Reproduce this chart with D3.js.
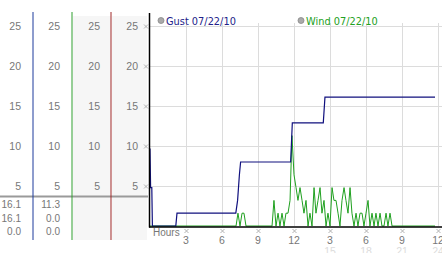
<!DOCTYPE html>
<html>
<head>
<meta charset="utf-8">
<script src="https://cdn.jsdelivr.net/npm/d3@7"></script>
<style>
  body { margin: 0; background: #fff; font-family: "Liberation Sans", Arial, sans-serif; }
  svg { display: block; }
</style>
</head>
<body>
<svg id="chart" width="442" height="253"></svg>
<script>
// y ticks shared by the side columns and the plot
let yTicks = [5, 10, 15, 20, 25]
// hour ticks, top row and faint second row
let hourTicks = [3, 6, 9, 12, 15, 18, 21, 24]
let hourLabels = ["3", "6", "9", "12", "3", "6", "9", "12"]
let hourLabels2 = ["", "", "", "", "15", "18", "21", "24"]

// series names and summary (max / current / min)
let seriesNames = ["Gust 07/22/10", "Wind 07/22/10"]
let gustStats = ["16.1", "16.1", "0.0"]
let windStats = ["11.3", "0.0", "0.0"]

// gust: [hour, value]
let gust = [
  [0, 9.7], [0.05, 4.8], [0.15, 4.8], [0.2, 0], [2.15, 0], [2.25, 1.6],
  [7.15, 1.6], [7.3, 3.2], [7.45, 6.4], [7.55, 8.0], [11.72, 8.0],
  [11.86, 12.9], [14.44, 12.9], [14.58, 16.1], [23.75, 16.1]
]

// wind: hours and values (10 minute samples between 7h and 20.3h)
let windHours = [0, 7, 7.17, 7.33, 7.5, 7.67, 7.83, 8, 10.17, 10.33, 10.5, 10.67, 10.83,
  11, 11.17, 11.33, 11.5, 11.67, 11.83, 12, 12.17, 12.33, 12.5, 12.67, 12.83, 13,
  13.17, 13.33, 13.5, 13.67, 13.83, 14, 14.17, 14.33, 14.5, 14.67, 14.83, 15, 15.17,
  15.33, 15.5, 15.67, 15.83, 16, 16.17, 16.33, 16.5, 16.67, 16.83, 17, 17.17, 17.33,
  17.5, 17.67, 17.83, 18, 18.17, 18.33, 18.5, 18.67, 18.83, 19, 19.17, 19.33, 19.5,
  19.67, 19.83, 20, 20.17, 20.33, 23.75]
let windValues = [0, 0, 0, 1.6, 0, 1.6, 1.6, 0, 0, 3.2, 0, 1.6, 0,
  1.6, 0, 1.6, 1.6, 3.2, 11.3, 6.4, 4.8, 3.2, 4.8, 3.2, 1.6, 3.2,
  0, 1.6, 0, 4.8, 1.6, 3.2, 4.8, 1.6, 3.2, 0, 1.6, 0, 4.8,
  3.2, 3.2, 1.6, 0, 3.2, 4.8, 3.2, 1.6, 4.8, 1.6, 0, 1.6, 0,
  1.6, 1.6, 0, 1.6, 3.2, 0, 1.6, 0, 1.6, 0, 1.6, 0, 0,
  1.6, 0, 1.6, 0, 0, 0]

let svg = d3.select("#chart")

let x = d3.scaleLinear().domain([0, 24]).range([150, 438])
let y = d3.scaleLinear().domain([0, 25]).range([226, 26])

// ---- left side panel ----
let cols = [
  { label: 21, line: 33, color: "#1c3a9c" },
  { label: 60, line: 72, color: "#2e9e2e" },
  { label: 100, line: 111, color: "#a02828" },
  { label: 138, line: null, color: null }
]

svg.append("rect").attr("x", 73).attr("y", 16).attr("width", 38).attr("height", 224).attr("fill", "#f6f6f6")
svg.append("rect").attr("x", 112).attr("y", 16).attr("width", 35).attr("height", 224).attr("fill", "#f6f6f6")

cols.forEach(c => {
  svg.append("g").selectAll("text").data(yTicks).enter().append("text")
    .attr("x", c.label).attr("y", d => y(d) + 4)
    .attr("text-anchor", "end")
    .attr("font-size", 10.5).attr("fill", "#777")
    .text(d => d)
})

svg.append("line").attr("x1", 0).attr("x2", 148).attr("y1", 196.5).attr("y2", 196.5)
  .attr("stroke", "#9a9a9a").attr("stroke-width", 2)

cols.forEach(c => {
  if (c.line == null) return
  svg.append("line").attr("x1", c.line).attr("x2", c.line).attr("y1", 12).attr("y2", 240)
    .attr("stroke", c.color).attr("stroke-width", 1)
})

let statY = [208, 222, 235]
svg.append("g").selectAll("text").data(gustStats).enter().append("text")
  .attr("x", 21).attr("y", (d, i) => statY[i]).attr("text-anchor", "end")
  .attr("font-size", 10).attr("fill", "#777").text(d => d)
svg.append("g").selectAll("text").data(windStats).enter().append("text")
  .attr("x", 60).attr("y", (d, i) => statY[i]).attr("text-anchor", "end")
  .attr("font-size", 10).attr("fill", "#777").text(d => d)

// ---- plot ----
let grid = svg.append("g").attr("stroke", "#dcdcdc").attr("stroke-width", 1)
grid.selectAll(".h").data(yTicks).enter().append("line")
  .attr("x1", 150).attr("x2", 442)
  .attr("y1", d => Math.round(y(d)) + 0.5).attr("y2", d => Math.round(y(d)) + 0.5)
grid.selectAll(".v").data(hourTicks).enter().append("line")
  .attr("x1", d => Math.round(x(d)) + 0.5).attr("x2", d => Math.round(x(d)) + 0.5)
  .attr("y1", 23).attr("y2", 226)

// small x-shaped tick marks
function mark(g, cx, cy) {
  g.append("path")
    .attr("d", `M${cx - 2},${cy - 2}L${cx + 2},${cy + 2}M${cx + 2},${cy - 2}L${cx - 2},${cy + 2}`)
    .attr("stroke", "#aaa").attr("stroke-width", 0.9).attr("fill", "none")
}
let marks = svg.append("g")
yTicks.forEach(d => mark(marks, 146, Math.round(y(d)) + 0.5))
hourTicks.forEach(d => mark(marks, Math.round(x(d)) + 0.5, 231))

// hour labels
svg.append("g").selectAll("text").data(hourTicks).enter().append("text")
  .attr("x", d => x(d)).attr("y", 243.5).attr("text-anchor", "middle")
  .attr("font-size", 10.5).attr("fill", "#777").text((d, i) => hourLabels[i])
svg.append("g").selectAll("text").data(hourTicks).enter().append("text")
  .attr("x", d => x(d)).attr("y", 255).attr("text-anchor", "middle")
  .attr("font-size", 10.5).attr("fill", "#dcdcdc").text((d, i) => hourLabels2[i])
svg.append("text").attr("x", 153).attr("y", 236).attr("font-size", 10).attr("fill", "#777").text("Hours")

let line = d3.line().x(d => x(d[0])).y(d => y(d[1]))

let wind = windHours.map((h, i) => [h, windValues[i]])
svg.append("path").datum(wind).attr("d", line)
  .attr("fill", "none").attr("stroke", "#1fa01f").attr("stroke-width", 1)

svg.append("path").datum(gust).attr("d", line)
  .attr("fill", "none").attr("stroke", "#10107e").attr("stroke-width", 1.2)

// axes
svg.append("line").attr("x1", 149.5).attr("x2", 149.5).attr("y1", 13).attr("y2", 227.5)
  .attr("stroke", "#000").attr("stroke-width", 1.5)
svg.append("line").attr("x1", 149).attr("x2", 442).attr("y1", 227).attr("y2", 227)
  .attr("stroke", "#000").attr("stroke-width", 1.5)

// legend
let legend = [
  { x: 161, color: "#22228a" },
  { x: 301, color: "#22a022" }
]
legend.forEach((l, i) => {
  svg.append("circle").attr("cx", l.x).attr("cy", 20.5).attr("r", 3)
    .attr("fill", "#aaa").attr("stroke", "#888").attr("stroke-width", 0.8)
  svg.append("text").attr("x", l.x + 5).attr("y", 24.5)
    .attr("font-family", "DejaVu Sans")
    .attr("font-size", 9.8).attr("fill", l.color).text(seriesNames[i])
})
</script>
</body>
</html>
